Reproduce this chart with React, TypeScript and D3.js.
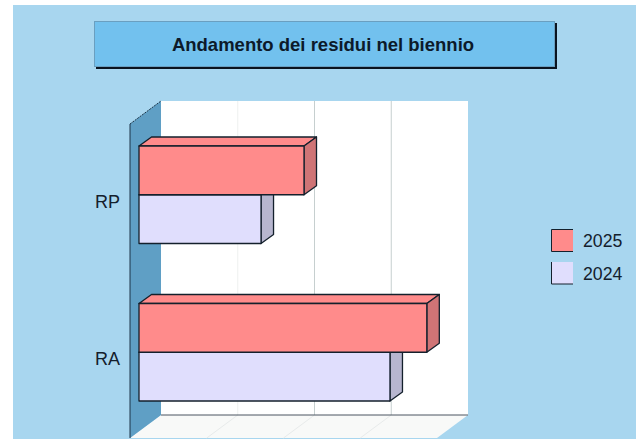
import * as d3 from "d3";

const categories = ["RP", "RA"];
const seriesNames = ["2025", "2024"];
const values2025 = [2.15, 3.75];
const values2024 = [1.59, 3.27];
const gridTicks = [1, 2, 3];
const title = "Andamento dei residui nel biennio";

const COLORS: Record<string, { front: string; top: string; side: string }> = {
  "2025": { front: "#ff8b8b", top: "#ff8b8b", side: "#cf7476" },
  "2024": { front: "#e0defd", top: "#e0defd", side: "#b7b6cf" },
};

const width = 636;
const height = 439;
const FONT = "'Liberation Sans', Arial, sans-serif";
const INK = "#14202c";

// plot box, back wall
const wall = { left: 161, right: 468, top: 101, bottom: 415 };
// wall/floor depth
const wallDx = 31;
const wallDy = 23;
// bar depth
const barDx = 12.5;
const barDy = 9;
const barStart = 139;

const x = d3.scaleLinear().domain([0, 4]).range([0, wall.right - wall.left]);
const y0 = d3
  .scaleBand<string>()
  .domain(categories)
  .range([116, 431])
  .paddingInner(0.381)
  .paddingOuter(0.1905);
const y1 = d3
  .scaleBand<string>()
  .domain(seriesNames)
  .range([0, y0.bandwidth()]);

const poly = (pts: [number, number][]) => pts.map((p) => p.join(",")).join(" ");

function Bar({ cat, name, value }: { cat: string; name: string; value: number }) {
  const top = (y0(cat) ?? 0) + (y1(name) ?? 0);
  const h = y1.bandwidth();
  const x1 = barStart + x(value);
  const c = COLORS[name];
  const edge = { stroke: INK, strokeWidth: 1.3, strokeLinejoin: "round" as const };
  return (
    <g>
      <polygon
        points={poly([
          [barStart, top],
          [barStart + barDx, top - barDy],
          [x1 + barDx, top - barDy],
          [x1, top],
        ])}
        fill={c.top}
        {...edge}
      />
      <polygon
        points={poly([
          [x1, top],
          [x1 + barDx, top - barDy],
          [x1 + barDx, top + h - barDy],
          [x1, top + h],
        ])}
        fill={c.side}
        {...edge}
      />
      <rect x={barStart} y={top} width={x(value)} height={h} fill={c.front} {...edge} />
    </g>
  );
}

export default function App() {
  return (
    <svg
      width={width}
      height={height}
      style={{ position: "absolute", left: 0, top: 0, background: "#fff" }}
    >
      <rect x={13} y={5} width={width - 13} height={height - 5} fill="#a8d6ef" />

      {/* title */}
      <rect x={96} y={23} width={461} height={46} fill="#0a1420" />
      <rect x={94.5} y={21.5} width={460} height={45} fill="#72c1ee" stroke="#6a9fc0" />
      <text
        x={323}
        y={51}
        textAnchor="middle"
        fontFamily={FONT}
        fontWeight="bold"
        fontSize={18.5}
        fill="#0c1a2a"
      >
        {title}
      </text>

      {/* back wall and floor */}
      <rect
        x={wall.left}
        y={wall.top}
        width={wall.right - wall.left}
        height={wall.bottom - wall.top}
        fill="#fff"
      />
      <polygon
        points={poly([
          [wall.left, wall.bottom],
          [wall.right, wall.bottom],
          [wall.right - wallDx, wall.bottom + wallDy],
          [wall.left - wallDx, wall.bottom + wallDy],
        ])}
        fill="#f8f9f8"
      />
      {gridTicks.map((t, i) => (
        <g key={t}>
          <line
            x1={wall.left + x(t)}
            x2={wall.left + x(t)}
            y1={wall.top}
            y2={wall.bottom}
            stroke={i === 0 ? "#eef0ef" : "#c6cfcf"}
          />
          <line
            x1={wall.left + x(t)}
            x2={wall.left + x(t) - wallDx}
            y1={wall.bottom}
            y2={wall.bottom + wallDy}
            stroke="#e8ebeb"
          />
        </g>
      ))}
      <line
        x1={wall.left}
        x2={wall.right}
        y1={wall.bottom}
        y2={wall.bottom}
        stroke="#4a5560"
      />
      <polygon
        points={poly([
          [wall.left - wallDx, wall.top + wallDy],
          [wall.left, wall.top],
          [wall.left, wall.bottom],
          [wall.left - wallDx, wall.bottom + wallDy],
        ])}
        fill="#5f9fc5"
      />
      <line
        x1={wall.left - wallDx}
        x2={wall.left - wallDx}
        y1={wall.top + wallDy}
        y2={wall.bottom + wallDy}
        stroke="#1c3548"
      />
      <line
        x1={wall.left - wallDx}
        x2={wall.left}
        y1={wall.top + wallDy}
        y2={wall.top}
        stroke="#1c3548"
        strokeDasharray="2 1"
      />

      {/* bars, back to front within each group */}
      {categories.map((cat, i) => (
        <g key={cat}>
          <Bar cat={cat} name="2024" value={values2024[i]} />
          <Bar cat={cat} name="2025" value={values2025[i]} />
          <text
            x={120}
            y={(y0(cat) ?? 0) + y0.bandwidth() / 2 + 13}
            textAnchor="end"
            fontFamily={FONT}
            fontSize={18}
            fill={INK}
          >
            {cat}
          </text>
        </g>
      ))}

      {/* legend */}
      {seriesNames.map((name, i) => {
        const ly = 229.5 + i * 32.5;
        return (
          <g key={name}>
            <rect x={551.5} y={ly} width={21.5} height={22} fill={COLORS[name].front} />
            <path
              d={
                i === 0
                  ? `M573,${ly}H551.5V${ly + 22}H573`
                  : `M551.5,${ly}V${ly + 22}H573`
              }
              fill="none"
              stroke={INK}
            />
            <text x={583} y={ly + 17.5} fontFamily={FONT} fontSize={17.7} fill={INK}>
              {name}
            </text>
          </g>
        );
      })}
    </svg>
  );
}
